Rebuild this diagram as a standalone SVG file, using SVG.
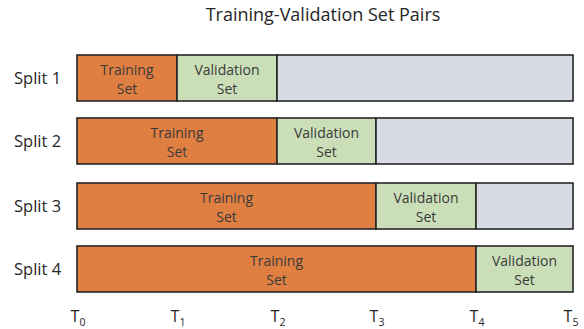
<svg xmlns="http://www.w3.org/2000/svg" width="584" height="329" viewBox="0 0 584 329">
<style>
text{font-family:"Open Sans","Liberation Sans",sans-serif;fill:#262626}
.title{font-size:18px;text-anchor:middle}
.lab{font-size:16.5px}
.box{stroke:#262626;stroke-width:1.6}
.tr{fill:#E07F42}
.va{fill:#CADFB8}
.em{fill:#D7DBE3}
.in{font-size:14px;text-anchor:middle;fill:#3a3a3a}
.t{font-size:16px;text-anchor:middle}
.sub{font-size:10.5px}
</style>
<rect width="584" height="329" fill="#fff"/>
<text class="title" x="323" y="21">Training-Validation Set Pairs</text>
<g id="split1">
<text class="lab" x="14" y="84">Split 1</text>
<rect class="box tr" x="77" y="55" width="100" height="46"/>
<rect class="box va" x="177" y="55" width="100" height="46"/>
<rect class="box em" x="277" y="55" width="296" height="46"/>
<text class="in" x="127" y="75">Training</text><text class="in" x="127" y="94">Set</text>
<text class="in" x="227" y="75">Validation</text><text class="in" x="227" y="94">Set</text>
</g>
<g id="split2">
<text class="lab" x="14" y="147">Split 2</text>
<rect class="box tr" x="77" y="118" width="200" height="46"/>
<rect class="box va" x="277" y="118" width="99" height="46"/>
<rect class="box em" x="376" y="118" width="197" height="46"/>
<text class="in" x="177" y="138">Training</text><text class="in" x="177" y="157">Set</text>
<text class="in" x="326.5" y="138">Validation</text><text class="in" x="326.5" y="157">Set</text>
</g>
<g id="split3">
<text class="lab" x="14" y="212">Split 3</text>
<rect class="box tr" x="77" y="183" width="299" height="46"/>
<rect class="box va" x="376" y="183" width="100" height="46"/>
<rect class="box em" x="476" y="183" width="97" height="46"/>
<text class="in" x="226.5" y="203">Training</text><text class="in" x="226.5" y="222">Set</text>
<text class="in" x="426" y="203">Validation</text><text class="in" x="426" y="222">Set</text>
</g>
<g id="split4">
<text class="lab" x="14" y="275">Split 4</text>
<rect class="box tr" x="77" y="246" width="399" height="46"/>
<rect class="box va" x="476" y="246" width="97" height="46"/>
<text class="in" x="276.5" y="266">Training</text><text class="in" x="276.5" y="285">Set</text>
<text class="in" x="524.5" y="266">Validation</text><text class="in" x="524.5" y="285">Set</text>
</g>
<g id="axis">
<text class="t" x="78" y="322">T<tspan class="sub" dy="4">0</tspan></text>
<text class="t" x="178" y="322">T<tspan class="sub" dy="4">1</tspan></text>
<text class="t" x="278" y="322">T<tspan class="sub" dy="4">2</tspan></text>
<text class="t" x="377" y="322">T<tspan class="sub" dy="4">3</tspan></text>
<text class="t" x="477" y="322">T<tspan class="sub" dy="4">4</tspan></text>
<text class="t" x="571" y="322">T<tspan class="sub" dy="4">5</tspan></text>
</g>
<g id="connectors"></g>
</svg>
